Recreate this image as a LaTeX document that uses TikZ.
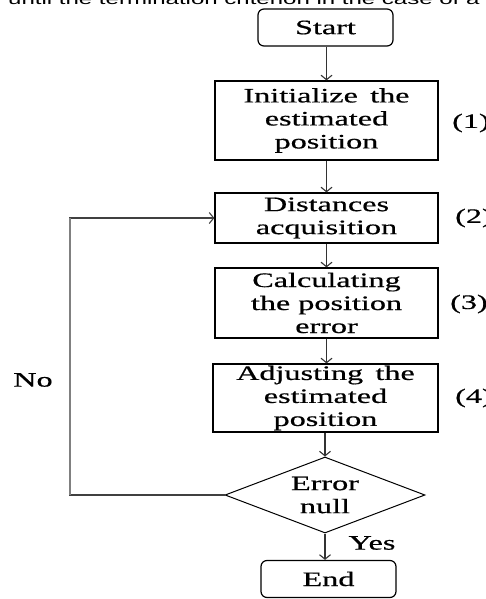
\documentclass[tikz,border=0pt]{standalone}
\usepackage{fontspec}
\setmainfont{Liberation Serif}
\newfontfamily\flowfont[FakeStretch=1.57,FakeBold=0.6]{Liberation Serif}
\newfontfamily\bodyfont[FakeStretch=1.57]{Liberation Sans}
\usetikzlibrary{shapes.geometric,arrows.meta}
\begin{document}
\begin{tikzpicture}[x=1pt,y=-1pt,
  every node/.style={font=\flowfont\fontsize{20.5}{23}\selectfont, inner sep=0pt},
  terminal/.style={draw, rounded corners=6pt, line width=1.2pt, minimum width=135pt, minimum height=37pt},
  stepbox/.style={draw, line width=1.2pt, minimum width=223pt, align=center},
  decision/.style={draw, diamond, aspect=2.6, line width=1pt, minimum width=200pt, minimum height=76pt, align=center},
  label/.style={anchor=west},
  flow/.style={-{Straight Barb[length=4.5pt,width=11pt,line width=1.1pt]}, line width=1.2pt, draw=black!80},
  loop/.style={-{Straight Barb[length=4.5pt,width=11pt,line width=1.1pt]}, line width=1.2pt, draw=black!75}]
\useasboundingbox (0,0) rectangle (486,599);
\clip (0,0) rectangle (486,599);

% cut-off line of the surrounding text
\node[font=\bodyfont\fontsize{15.3}{17}\selectfont, anchor=base west] (caption) at (8,4.5)
  {until the termination criterion in the case of a d};

% flowchart nodes
\node[terminal] (start) at (325.5,27.5) {Start};
\node[stepbox, minimum height=79pt] (init) at (326.5,120.5)
  {Initialize\hspace{0.6em}the\\estimated\\position};
\node[stepbox, minimum height=50pt] (dist) at (326.5,218) {Distances\\acquisition};
\node[stepbox, minimum height=70pt] (calc) at (326.5,303) {Calculating\\the position\\error};
\node[stepbox, minimum height=68pt, minimum width=225pt] (adj) at (325.5,398)
  {Adjusting\hspace{0.6em}the\\estimated\\position};
\node[decision] (test) at (325,495) {Error\\null};
\node[terminal] (end) at (328.5,579) {End};

% step numbers
\node[label] (n1) at (452,123) {(1)};
\node[label] (n2) at (455,218) {(2)};
\node[label] (n3) at (450,304) {(3)};
\node[label] (n4) at (455,398) {(4)};

% branch labels
\node (no) at (33,380) {No};
\node (yes) at (372,543) {Yes};

% connectors
\coordinate (loopdown) at (70,495);
\coordinate (loopup) at (70,218);
\draw[flow] (start.south -| init.north) -- (init.north);
\draw[flow] (init) -- (dist);
\draw[flow] (dist) -- (calc);
\draw[flow] (calc.south) -- (calc.south |- adj.north);
\draw[flow] (adj.south -| test.north) -- (test.north);
\draw[flow] (test.south) -- (test.south |- end.north);
\draw[loop] (test.west) -- (loopdown) -- (loopup) -- (dist.west);
% the long return leg is drawn heavier and lighter grey
\draw[line width=2.6pt, draw=black!50] (loopdown) -- (loopup);
\end{tikzpicture}
\end{document}
